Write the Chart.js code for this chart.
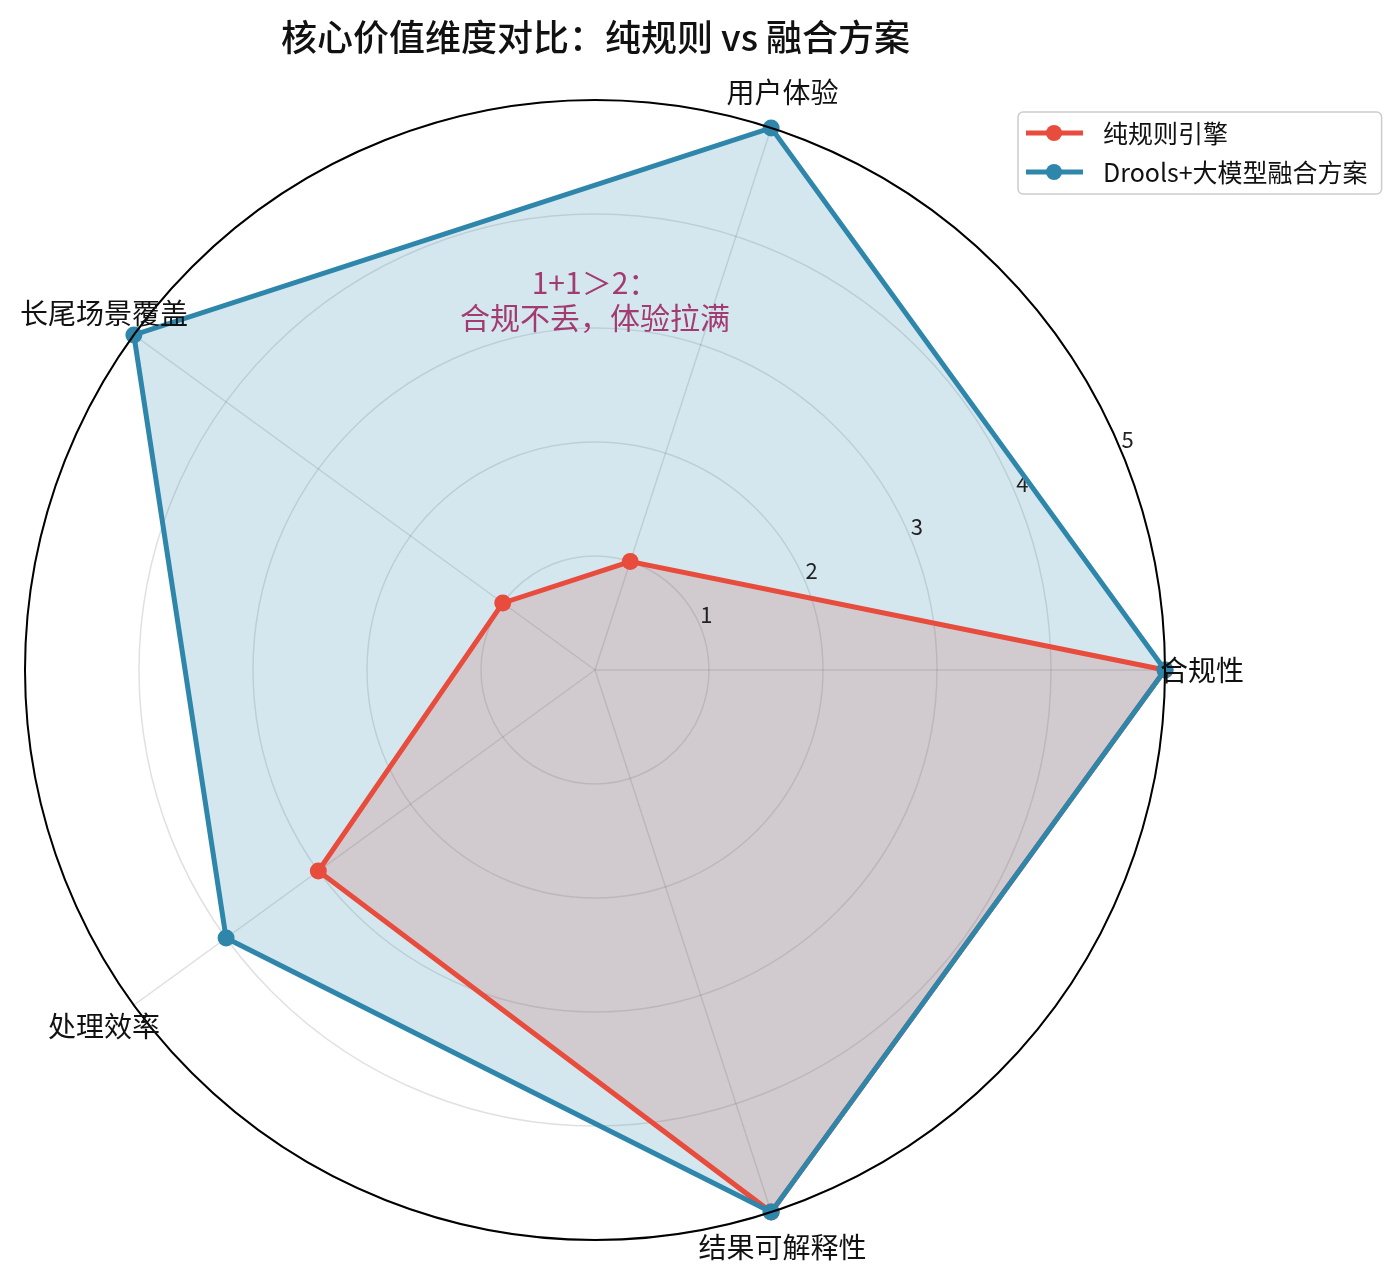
<!DOCTYPE html>
<html>
<head>
<meta charset="utf-8">
<script src="https://cdn.jsdelivr.net/npm/chart.js@4.4.1/dist/chart.umd.min.js"></script>
<style>
  html, body { margin: 0; padding: 0; background: #fff; }
  #wrap { width: 1400px; height: 1279px; position: relative; }
</style>
</head>
<body>
<div id="wrap"><canvas id="radar"></canvas></div>
<script>
// clockwise from the right-hand axis (Chart.js goes clockwise)
var categories = ['合规性', '结果可解释性', '处理效率', '长尾场景覆盖', '用户体验'];
var ruleValues = [5, 5, 3, 1, 1];
var fusionValues = [5, 5, 4, 5, 5];
var seriesNames = ['纯规则引擎', 'Drools+大模型融合方案'];
var tickValues = [1, 2, 3, 4, 5];
var noteLines = ['1+1＞2：', '合规不丢，体验拉满'];

var FONT = '"Noto Sans CJK SC", "Noto Sans", sans-serif';
var RED = '#E74C3C';
var BLUE = '#2E86AB';

var polarExtras = {
    id: 'polarExtras',
    beforeDatasetsDraw: function(chart) {
        var s = chart.scales.r, ctx = chart.ctx;
        var a = 22.5 * Math.PI / 180;
        ctx.save();
        ctx.fillStyle = '#222';
        ctx.font = '22px ' + FONT;
        ctx.textAlign = 'center';
        ctx.textBaseline = 'middle';
        tickValues.forEach(function(v) {
            var d = s.getDistanceFromCenterForValue(v);
            ctx.fillText(String(v), s.xCenter + d * Math.cos(a) + 6, s.yCenter - d * Math.sin(a) - 12);
        });
        ctx.restore();
    },
    afterDatasetsDraw: function(chart) {
        var s = chart.scales.r, ctx = chart.ctx;
        ctx.save();
        // outer frame on top of the data
        ctx.strokeStyle = '#000';
        ctx.lineWidth = 2;
        ctx.beginPath();
        ctx.arc(s.xCenter, s.yCenter, s.drawingArea, 0, Math.PI * 2);
        ctx.stroke();

        // axis labels centred just outside the frame
        ctx.fillStyle = '#111';
        ctx.font = '28px ' + FONT;
        ctx.textAlign = 'center';
        ctx.textBaseline = 'middle';
        categories.forEach(function(c, i) {
            var p = s.getPointPosition(i, s.drawingArea + 37);
            ctx.fillText(c, p.x, p.y);
        });

        // note text
        ctx.fillStyle = '#A23B72';
        ctx.font = '30px ' + FONT;
        noteLines.forEach(function(t, i) {
            ctx.fillText(t, s.xCenter, s.yCenter - 387 + i * 35);
        });
        ctx.restore();
    },
    afterDraw: function(chart) {
        var ctx = chart.ctx;
        var sets = chart.data.datasets;
        var x0 = 1018, y0 = 112, rowH = 39;
        ctx.save();
        ctx.font = '25px ' + FONT;
        var tw = 0;
        sets.forEach(function(d) { tw = Math.max(tw, ctx.measureText(d.label).width); });
        var w = 85 + tw + 14, h = rowH * sets.length + 4;
        ctx.fillStyle = 'rgba(255,255,255,0.85)';
        ctx.strokeStyle = '#cccccc';
        ctx.lineWidth = 1.5;
        ctx.beginPath();
        ctx.roundRect(x0, y0, w, h, 5);
        ctx.fill();
        ctx.stroke();
        sets.forEach(function(d, i) {
            var y = y0 + 21 + i * rowH;
            ctx.strokeStyle = d.borderColor;
            ctx.lineWidth = 5;
            ctx.beginPath();
            ctx.moveTo(x0 + 8, y);
            ctx.lineTo(x0 + 65, y);
            ctx.stroke();
            ctx.fillStyle = d.borderColor;
            ctx.beginPath();
            ctx.arc(x0 + 36, y, 8, 0, Math.PI * 2);
            ctx.fill();
            ctx.fillStyle = '#111';
            ctx.textAlign = 'left';
            ctx.textBaseline = 'middle';
            ctx.fillText(d.label, x0 + 85, y);
        });
        ctx.restore();
    }
};

new Chart(document.getElementById('radar'), {
    type: 'radar',
    data: {
        labels: categories,
        datasets: [{
            label: seriesNames[0],
            data: ruleValues,
            borderColor: RED,
            backgroundColor: 'rgba(231,76,60,0.2)',
            pointBackgroundColor: RED,
            fill: true,
            order: 2
        }, {
            label: seriesNames[1],
            data: fusionValues,
            borderColor: BLUE,
            backgroundColor: 'rgba(46,134,171,0.2)',
            pointBackgroundColor: BLUE,
            fill: true,
            order: 1
        }]
    },
    options: {
        responsive: true,
        maintainAspectRatio: false,
        animation: false,
        events: [],
        layout: { padding: { left: 25, right: 234, top: 0, bottom: 38 } },
        elements: {
            line: { borderWidth: 5, tension: 0 },
            point: { radius: 8.5, borderWidth: 0 }
        },
        scales: {
            r: {
                min: 0,
                max: 5,
                startAngle: 90,
                ticks: { stepSize: 1, display: false },
                grid: { circular: true, color: 'rgba(0,0,0,0.12)', lineWidth: 1.5 },
                angleLines: { color: 'rgba(0,0,0,0.12)', lineWidth: 1.5 },
                pointLabels: { display: false }
            }
        },
        plugins: {
            filler: { drawTime: 'beforeDatasetsDraw' },
            legend: { display: false },
            tooltip: { enabled: false },
            title: {
                display: true,
                text: '核心价值维度对比：纯规则 vs 融合方案',
                fullSize: false,
                color: '#111',
                font: { family: FONT, size: 36, weight: 500 },
                padding: { top: 16, bottom: 41 }
            }
        }
    },
    plugins: [polarExtras]
});
</script>
</body>
</html>
